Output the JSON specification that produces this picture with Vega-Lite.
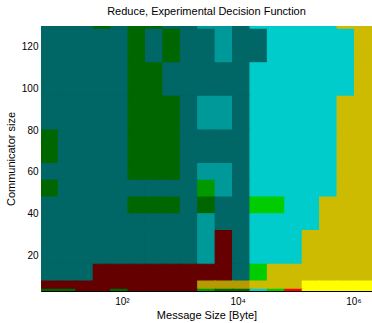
{
"$schema": "https://vega.github.io/schema/vega-lite/v6.json",
"width": 331, "height": 265,
"autosize": {"type": "none"},
"padding": {"left": 41, "top": 26, "right": 0, "bottom": 32},
"background": "white",
"title": {"text": "Reduce, Experimental Decision Function", "font": "Liberation Sans", "fontSize": 11, "fontWeight": "normal", "color": "#000", "offset": 9, "anchor": "middle"},
"config": {
  "view": {"stroke": "#888", "strokeWidth": 1},
  "axis": {"domainColor": "#000", "labelColor": "#000", "titleColor": "#000", "labelFont": "Liberation Sans", "titleFont": "Liberation Sans", "labelFontSize": 10, "titleFontSize": 11, "titleFontWeight": "normal", "ticks": false, "grid": false, "zindex": 1}
},
"datasets": {"cells": [
{"x":4,"x2":8,"y":128,"y2":129.6,"c":"T"},{"x":8,"x2":16,"y":128,"y2":129.6,"c":"T"},{"x":16,"x2":32,"y":128,"y2":129.6,"c":"T"},{"x":32,"x2":64,"y":128,"y2":129.6,"c":"G"},{"x":64,"x2":128,"y":128,"y2":129.6,"c":"T"},{"x":128,"x2":256,"y":128,"y2":129.6,"c":"G"},{"x":256,"x2":512,"y":128,"y2":129.6,"c":"G"},{"x":512,"x2":1024,"y":128,"y2":129.6,"c":"T"},{"x":1024,"x2":2048,"y":128,"y2":129.6,"c":"T"},{"x":2048,"x2":4096,"y":128,"y2":129.6,"c":"M"},{"x":4096,"x2":8192,"y":128,"y2":129.6,"c":"M"},{"x":8192,"x2":16384,"y":128,"y2":129.6,"c":"T"},{"x":16384,"x2":32768,"y":128,"y2":129.6,"c":"C"},{"x":32768,"x2":65536,"y":128,"y2":129.6,"c":"C"},{"x":65536,"x2":131072,"y":128,"y2":129.6,"c":"C"},{"x":131072,"x2":262144,"y":128,"y2":129.6,"c":"C"},{"x":262144,"x2":524288,"y":128,"y2":129.6,"c":"C"},{"x":524288,"x2":1048576,"y":128,"y2":129.6,"c":"O"},{"x":1048576,"x2":2097152,"y":128,"y2":129.6,"c":"O"},
{"x":4,"x2":8,"y":112,"y2":128,"c":"T"},{"x":8,"x2":16,"y":112,"y2":128,"c":"T"},{"x":16,"x2":32,"y":112,"y2":128,"c":"T"},{"x":32,"x2":64,"y":112,"y2":128,"c":"T"},{"x":64,"x2":128,"y":112,"y2":128,"c":"T"},{"x":128,"x2":256,"y":112,"y2":128,"c":"G"},{"x":256,"x2":512,"y":112,"y2":128,"c":"T"},{"x":512,"x2":1024,"y":112,"y2":128,"c":"G"},{"x":1024,"x2":2048,"y":112,"y2":128,"c":"T"},{"x":2048,"x2":4096,"y":112,"y2":128,"c":"T"},{"x":4096,"x2":8192,"y":112,"y2":128,"c":"M"},{"x":8192,"x2":16384,"y":112,"y2":128,"c":"T"},{"x":16384,"x2":32768,"y":112,"y2":128,"c":"T"},{"x":32768,"x2":65536,"y":112,"y2":128,"c":"C"},{"x":65536,"x2":131072,"y":112,"y2":128,"c":"C"},{"x":131072,"x2":262144,"y":112,"y2":128,"c":"C"},{"x":262144,"x2":524288,"y":112,"y2":128,"c":"C"},{"x":524288,"x2":1048576,"y":112,"y2":128,"c":"C"},{"x":1048576,"x2":2097152,"y":112,"y2":128,"c":"O"},
{"x":4,"x2":8,"y":96,"y2":112,"c":"T"},{"x":8,"x2":16,"y":96,"y2":112,"c":"T"},{"x":16,"x2":32,"y":96,"y2":112,"c":"T"},{"x":32,"x2":64,"y":96,"y2":112,"c":"T"},{"x":64,"x2":128,"y":96,"y2":112,"c":"T"},{"x":128,"x2":256,"y":96,"y2":112,"c":"G"},{"x":256,"x2":512,"y":96,"y2":112,"c":"G"},{"x":512,"x2":1024,"y":96,"y2":112,"c":"T"},{"x":1024,"x2":2048,"y":96,"y2":112,"c":"T"},{"x":2048,"x2":4096,"y":96,"y2":112,"c":"T"},{"x":4096,"x2":8192,"y":96,"y2":112,"c":"T"},{"x":8192,"x2":16384,"y":96,"y2":112,"c":"T"},{"x":16384,"x2":32768,"y":96,"y2":112,"c":"C"},{"x":32768,"x2":65536,"y":96,"y2":112,"c":"C"},{"x":65536,"x2":131072,"y":96,"y2":112,"c":"C"},{"x":131072,"x2":262144,"y":96,"y2":112,"c":"C"},{"x":262144,"x2":524288,"y":96,"y2":112,"c":"C"},{"x":524288,"x2":1048576,"y":96,"y2":112,"c":"C"},{"x":1048576,"x2":2097152,"y":96,"y2":112,"c":"O"},
{"x":4,"x2":8,"y":80,"y2":96,"c":"T"},{"x":8,"x2":16,"y":80,"y2":96,"c":"T"},{"x":16,"x2":32,"y":80,"y2":96,"c":"T"},{"x":32,"x2":64,"y":80,"y2":96,"c":"T"},{"x":64,"x2":128,"y":80,"y2":96,"c":"T"},{"x":128,"x2":256,"y":80,"y2":96,"c":"G"},{"x":256,"x2":512,"y":80,"y2":96,"c":"G"},{"x":512,"x2":1024,"y":80,"y2":96,"c":"G"},{"x":1024,"x2":2048,"y":80,"y2":96,"c":"T"},{"x":2048,"x2":4096,"y":80,"y2":96,"c":"M"},{"x":4096,"x2":8192,"y":80,"y2":96,"c":"M"},{"x":8192,"x2":16384,"y":80,"y2":96,"c":"T"},{"x":16384,"x2":32768,"y":80,"y2":96,"c":"C"},{"x":32768,"x2":65536,"y":80,"y2":96,"c":"C"},{"x":65536,"x2":131072,"y":80,"y2":96,"c":"C"},{"x":131072,"x2":262144,"y":80,"y2":96,"c":"C"},{"x":262144,"x2":524288,"y":80,"y2":96,"c":"C"},{"x":524288,"x2":1048576,"y":80,"y2":96,"c":"O"},{"x":1048576,"x2":2097152,"y":80,"y2":96,"c":"O"},
{"x":4,"x2":8,"y":64,"y2":80,"c":"G"},{"x":8,"x2":16,"y":64,"y2":80,"c":"T"},{"x":16,"x2":32,"y":64,"y2":80,"c":"T"},{"x":32,"x2":64,"y":64,"y2":80,"c":"T"},{"x":64,"x2":128,"y":64,"y2":80,"c":"T"},{"x":128,"x2":256,"y":64,"y2":80,"c":"G"},{"x":256,"x2":512,"y":64,"y2":80,"c":"G"},{"x":512,"x2":1024,"y":64,"y2":80,"c":"G"},{"x":1024,"x2":2048,"y":64,"y2":80,"c":"T"},{"x":2048,"x2":4096,"y":64,"y2":80,"c":"T"},{"x":4096,"x2":8192,"y":64,"y2":80,"c":"T"},{"x":8192,"x2":16384,"y":64,"y2":80,"c":"T"},{"x":16384,"x2":32768,"y":64,"y2":80,"c":"C"},{"x":32768,"x2":65536,"y":64,"y2":80,"c":"C"},{"x":65536,"x2":131072,"y":64,"y2":80,"c":"C"},{"x":131072,"x2":262144,"y":64,"y2":80,"c":"C"},{"x":262144,"x2":524288,"y":64,"y2":80,"c":"C"},{"x":524288,"x2":1048576,"y":64,"y2":80,"c":"O"},{"x":1048576,"x2":2097152,"y":64,"y2":80,"c":"O"},
{"x":4,"x2":8,"y":56,"y2":64,"c":"T"},{"x":8,"x2":16,"y":56,"y2":64,"c":"T"},{"x":16,"x2":32,"y":56,"y2":64,"c":"T"},{"x":32,"x2":64,"y":56,"y2":64,"c":"T"},{"x":64,"x2":128,"y":56,"y2":64,"c":"T"},{"x":128,"x2":256,"y":56,"y2":64,"c":"G"},{"x":256,"x2":512,"y":56,"y2":64,"c":"G"},{"x":512,"x2":1024,"y":56,"y2":64,"c":"G"},{"x":1024,"x2":2048,"y":56,"y2":64,"c":"T"},{"x":2048,"x2":4096,"y":56,"y2":64,"c":"M"},{"x":4096,"x2":8192,"y":56,"y2":64,"c":"M"},{"x":8192,"x2":16384,"y":56,"y2":64,"c":"T"},{"x":16384,"x2":32768,"y":56,"y2":64,"c":"C"},{"x":32768,"x2":65536,"y":56,"y2":64,"c":"C"},{"x":65536,"x2":131072,"y":56,"y2":64,"c":"C"},{"x":131072,"x2":262144,"y":56,"y2":64,"c":"C"},{"x":262144,"x2":524288,"y":56,"y2":64,"c":"C"},{"x":524288,"x2":1048576,"y":56,"y2":64,"c":"O"},{"x":1048576,"x2":2097152,"y":56,"y2":64,"c":"O"},
{"x":4,"x2":8,"y":48,"y2":56,"c":"G"},{"x":8,"x2":16,"y":48,"y2":56,"c":"T"},{"x":16,"x2":32,"y":48,"y2":56,"c":"T"},{"x":32,"x2":64,"y":48,"y2":56,"c":"T"},{"x":64,"x2":128,"y":48,"y2":56,"c":"T"},{"x":128,"x2":256,"y":48,"y2":56,"c":"T"},{"x":256,"x2":512,"y":48,"y2":56,"c":"T"},{"x":512,"x2":1024,"y":48,"y2":56,"c":"T"},{"x":1024,"x2":2048,"y":48,"y2":56,"c":"T"},{"x":2048,"x2":4096,"y":48,"y2":56,"c":"g"},{"x":4096,"x2":8192,"y":48,"y2":56,"c":"M"},{"x":8192,"x2":16384,"y":48,"y2":56,"c":"T"},{"x":16384,"x2":32768,"y":48,"y2":56,"c":"C"},{"x":32768,"x2":65536,"y":48,"y2":56,"c":"C"},{"x":65536,"x2":131072,"y":48,"y2":56,"c":"C"},{"x":131072,"x2":262144,"y":48,"y2":56,"c":"C"},{"x":262144,"x2":524288,"y":48,"y2":56,"c":"C"},{"x":524288,"x2":1048576,"y":48,"y2":56,"c":"O"},{"x":1048576,"x2":2097152,"y":48,"y2":56,"c":"O"},
{"x":4,"x2":8,"y":40,"y2":48,"c":"T"},{"x":8,"x2":16,"y":40,"y2":48,"c":"T"},{"x":16,"x2":32,"y":40,"y2":48,"c":"T"},{"x":32,"x2":64,"y":40,"y2":48,"c":"T"},{"x":64,"x2":128,"y":40,"y2":48,"c":"T"},{"x":128,"x2":256,"y":40,"y2":48,"c":"G"},{"x":256,"x2":512,"y":40,"y2":48,"c":"G"},{"x":512,"x2":1024,"y":40,"y2":48,"c":"G"},{"x":1024,"x2":2048,"y":40,"y2":48,"c":"T"},{"x":2048,"x2":4096,"y":40,"y2":48,"c":"G"},{"x":4096,"x2":8192,"y":40,"y2":48,"c":"T"},{"x":8192,"x2":16384,"y":40,"y2":48,"c":"T"},{"x":16384,"x2":32768,"y":40,"y2":48,"c":"B"},{"x":32768,"x2":65536,"y":40,"y2":48,"c":"B"},{"x":65536,"x2":131072,"y":40,"y2":48,"c":"C"},{"x":131072,"x2":262144,"y":40,"y2":48,"c":"C"},{"x":262144,"x2":524288,"y":40,"y2":48,"c":"O"},{"x":524288,"x2":1048576,"y":40,"y2":48,"c":"O"},{"x":1048576,"x2":2097152,"y":40,"y2":48,"c":"O"},
{"x":4,"x2":8,"y":32,"y2":40,"c":"T"},{"x":8,"x2":16,"y":32,"y2":40,"c":"T"},{"x":16,"x2":32,"y":32,"y2":40,"c":"T"},{"x":32,"x2":64,"y":32,"y2":40,"c":"T"},{"x":64,"x2":128,"y":32,"y2":40,"c":"T"},{"x":128,"x2":256,"y":32,"y2":40,"c":"T"},{"x":256,"x2":512,"y":32,"y2":40,"c":"T"},{"x":512,"x2":1024,"y":32,"y2":40,"c":"T"},{"x":1024,"x2":2048,"y":32,"y2":40,"c":"T"},{"x":2048,"x2":4096,"y":32,"y2":40,"c":"M"},{"x":4096,"x2":8192,"y":32,"y2":40,"c":"T"},{"x":8192,"x2":16384,"y":32,"y2":40,"c":"T"},{"x":16384,"x2":32768,"y":32,"y2":40,"c":"C"},{"x":32768,"x2":65536,"y":32,"y2":40,"c":"C"},{"x":65536,"x2":131072,"y":32,"y2":40,"c":"C"},{"x":131072,"x2":262144,"y":32,"y2":40,"c":"C"},{"x":262144,"x2":524288,"y":32,"y2":40,"c":"O"},{"x":524288,"x2":1048576,"y":32,"y2":40,"c":"O"},{"x":1048576,"x2":2097152,"y":32,"y2":40,"c":"O"},
{"x":4,"x2":8,"y":16,"y2":32,"c":"T"},{"x":8,"x2":16,"y":16,"y2":32,"c":"T"},{"x":16,"x2":32,"y":16,"y2":32,"c":"T"},{"x":32,"x2":64,"y":16,"y2":32,"c":"T"},{"x":64,"x2":128,"y":16,"y2":32,"c":"T"},{"x":128,"x2":256,"y":16,"y2":32,"c":"T"},{"x":256,"x2":512,"y":16,"y2":32,"c":"T"},{"x":512,"x2":1024,"y":16,"y2":32,"c":"T"},{"x":1024,"x2":2048,"y":16,"y2":32,"c":"T"},{"x":2048,"x2":4096,"y":16,"y2":32,"c":"M"},{"x":4096,"x2":8192,"y":16,"y2":32,"c":"R"},{"x":8192,"x2":16384,"y":16,"y2":32,"c":"T"},{"x":16384,"x2":32768,"y":16,"y2":32,"c":"C"},{"x":32768,"x2":65536,"y":16,"y2":32,"c":"C"},{"x":65536,"x2":131072,"y":16,"y2":32,"c":"C"},{"x":131072,"x2":262144,"y":16,"y2":32,"c":"O"},{"x":262144,"x2":524288,"y":16,"y2":32,"c":"O"},{"x":524288,"x2":1048576,"y":16,"y2":32,"c":"O"},{"x":1048576,"x2":2097152,"y":16,"y2":32,"c":"O"},
{"x":4,"x2":8,"y":8,"y2":16,"c":"T"},{"x":8,"x2":16,"y":8,"y2":16,"c":"T"},{"x":16,"x2":32,"y":8,"y2":16,"c":"T"},{"x":32,"x2":64,"y":8,"y2":16,"c":"R"},{"x":64,"x2":128,"y":8,"y2":16,"c":"R"},{"x":128,"x2":256,"y":8,"y2":16,"c":"R"},{"x":256,"x2":512,"y":8,"y2":16,"c":"R"},{"x":512,"x2":1024,"y":8,"y2":16,"c":"R"},{"x":1024,"x2":2048,"y":8,"y2":16,"c":"R"},{"x":2048,"x2":4096,"y":8,"y2":16,"c":"R"},{"x":4096,"x2":8192,"y":8,"y2":16,"c":"R"},{"x":8192,"x2":16384,"y":8,"y2":16,"c":"T"},{"x":16384,"x2":32768,"y":8,"y2":16,"c":"B"},{"x":32768,"x2":65536,"y":8,"y2":16,"c":"O"},{"x":65536,"x2":131072,"y":8,"y2":16,"c":"O"},{"x":131072,"x2":262144,"y":8,"y2":16,"c":"O"},{"x":262144,"x2":524288,"y":8,"y2":16,"c":"O"},{"x":524288,"x2":1048576,"y":8,"y2":16,"c":"O"},{"x":1048576,"x2":2097152,"y":8,"y2":16,"c":"O"},
{"x":4,"x2":8,"y":4,"y2":8,"c":"R"},{"x":8,"x2":16,"y":4,"y2":8,"c":"R"},{"x":16,"x2":32,"y":4,"y2":8,"c":"R"},{"x":32,"x2":64,"y":4,"y2":8,"c":"R"},{"x":64,"x2":128,"y":4,"y2":8,"c":"R"},{"x":128,"x2":256,"y":4,"y2":8,"c":"R"},{"x":256,"x2":512,"y":4,"y2":8,"c":"R"},{"x":512,"x2":1024,"y":4,"y2":8,"c":"R"},{"x":1024,"x2":2048,"y":4,"y2":8,"c":"R"},{"x":2048,"x2":4096,"y":4,"y2":8,"c":"D"},{"x":4096,"x2":8192,"y":4,"y2":8,"c":"D"},{"x":8192,"x2":16384,"y":4,"y2":8,"c":"D"},{"x":16384,"x2":32768,"y":4,"y2":8,"c":"O"},{"x":32768,"x2":65536,"y":4,"y2":8,"c":"O"},{"x":65536,"x2":131072,"y":4,"y2":8,"c":"O"},{"x":131072,"x2":262144,"y":4,"y2":8,"c":"Y"},{"x":262144,"x2":524288,"y":4,"y2":8,"c":"Y"},{"x":524288,"x2":1048576,"y":4,"y2":8,"c":"Y"},{"x":1048576,"x2":2097152,"y":4,"y2":8,"c":"Y"},
{"x":4,"x2":8,"y":3.25,"y2":4,"c":"G"},{"x":8,"x2":16,"y":3.25,"y2":4,"c":"G"},{"x":16,"x2":32,"y":3.25,"y2":4,"c":"R"},{"x":32,"x2":64,"y":3.25,"y2":4,"c":"R"},{"x":64,"x2":128,"y":3.25,"y2":4,"c":"G"},{"x":128,"x2":256,"y":3.25,"y2":4,"c":"R"},{"x":256,"x2":512,"y":3.25,"y2":4,"c":"R"},{"x":512,"x2":1024,"y":3.25,"y2":4,"c":"R"},{"x":1024,"x2":2048,"y":3.25,"y2":4,"c":"R"},{"x":2048,"x2":4096,"y":3.25,"y2":4,"c":"g"},{"x":4096,"x2":8192,"y":3.25,"y2":4,"c":"G"},{"x":8192,"x2":16384,"y":3.25,"y2":4,"c":"G"},{"x":16384,"x2":32768,"y":3.25,"y2":4,"c":"C"},{"x":32768,"x2":65536,"y":3.25,"y2":4,"c":"B"},{"x":65536,"x2":131072,"y":3.25,"y2":4,"c":"r"},{"x":131072,"x2":262144,"y":3.25,"y2":4,"c":"Y"},{"x":262144,"x2":524288,"y":3.25,"y2":4,"c":"Y"},{"x":524288,"x2":1048576,"y":3.25,"y2":4,"c":"Y"},{"x":1048576,"x2":2097152,"y":3.25,"y2":4,"c":"Y"}
]},
"data": {"name": "cells"},
"mark": {"type": "rect", "strokeWidth": 1.2, "strokeOpacity": 1, "opacity": 1, "clip": true},
"encoding": {
  "x": {"field": "x", "type": "quantitative", "scale": {"type": "log", "domain": [4, 2097152], "nice": false}, "axis": {"values": [100, 10000, 1000000], "labelExpr": "datum.value == 100 ? '10²' : datum.value == 10000 ? '10⁴' : '10⁶'", "title": "Message Size [Byte]", "labelPadding": 5, "titlePadding": 3, "labelFlush": false}},
  "x2": {"field": "x2"},
  "y": {"field": "y", "type": "quantitative", "scale": {"domain": [3.25, 129.6], "nice": false, "zero": false}, "axis": {"values": [20, 40, 60, 80, 100, 120], "title": "Communicator size", "labelPadding": 3, "titlePadding": 5}},
  "y2": {"field": "y2"},
  "color": {"field": "c", "type": "nominal", "legend": null, "scale": {"domain": ["T","G","M","C","O","Y","R","B","g","D","r"], "range": ["#006666","#006600","#009999","#00cccc","#ccbb00","#ffff00","#640000","#00cc00","#009900","#b49b00","#ff0000"]}},
  "stroke": {"field": "c", "type": "nominal", "legend": null, "scale": {"domain": ["T","G","M","C","O","Y","R","B","g","D","r"], "range": ["#006666","#006600","#009999","#00cccc","#ccbb00","#ffff00","#640000","#00cc00","#009900","#b49b00","#ff0000"]}}
}
}
